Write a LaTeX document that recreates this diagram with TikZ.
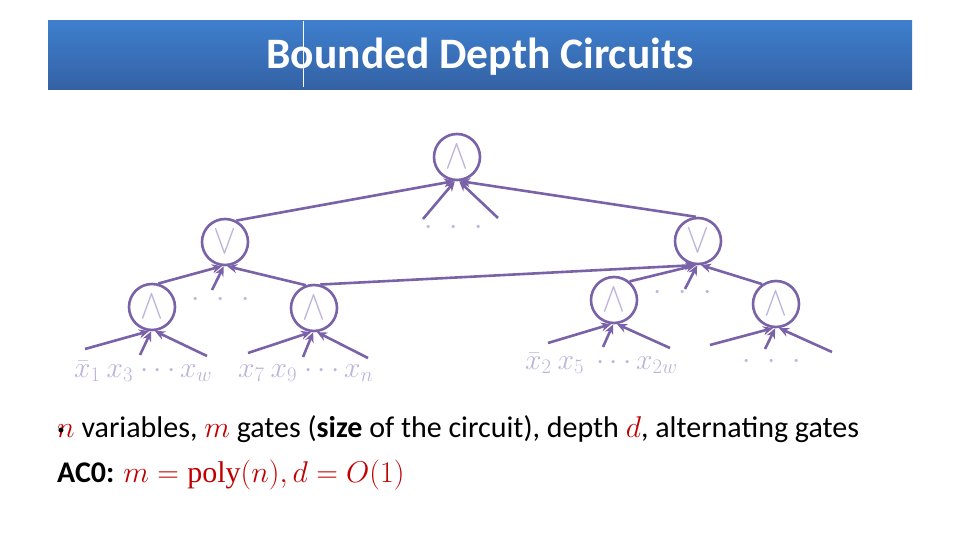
\RequirePackage{fix-cm}
\documentclass[tikz,border=0pt]{standalone}
\usepackage{fontspec}
\setmainfont{Carlito}
\newfontfamily\serifm{Liberation Serif}
\usetikzlibrary{arrows.meta}
\definecolor{gate}{HTML}{7A62A8}
\definecolor{lbl}{HTML}{BEB4DA}
\definecolor{mred}{HTML}{C00000}
\definecolor{bartop}{HTML}{3E7FCD}
\definecolor{barbot}{HTML}{3461A4}
\newcommand{\gsym}[1]{\scalebox{0.82}[1]{$#1$}}
\begin{document}
\begin{tikzpicture}[x=1pt,y=-1pt,
  gatec/.style={circle,draw=gate,line width=2.6pt,minimum size=46pt,inner sep=0pt,text=lbl,font=\fontsize{42}{42}\selectfont},
  wire/.style={draw=gate,line width=2.6pt,-{Stealth[length=10pt,width=9pt]}},
  lab/.style={text=lbl,font=\fontsize{29.5}{29.5}\selectfont,inner sep=0pt},
  dotsn/.style={text=lbl,font=\fontsize{30}{30}\selectfont,inner sep=0pt},
  body/.style={font=\fontsize{30}{30}\selectfont,inner sep=0pt}]
\useasboundingbox (0,0) rectangle (960,540);
\fill[white] (0,0) rectangle (960,540);
% title bar
\shade[top color=bartop,bottom color=barbot] (48,21) rectangle (912,90);
\draw[white,line width=0.8pt] (303,21) -- (303,87);
\node[text=white,font=\bfseries\fontsize{43.5}{43.5}\selectfont] (title) at (480,57) {Bounded Depth Circuits};
% gates
\node[gatec] (T) at (457,157) {\gsym{\wedge}};
\node[gatec] (LO) at (225,242) {\gsym{\vee}};
\node[gatec] (RO) at (698,241) {\gsym{\vee}};
\node[gatec] (LA) at (152,307) {\gsym{\wedge}};
\node[gatec] (RA) at (314,308) {\gsym{\wedge}};
\node[gatec] (RA1) at (614,300) {\gsym{\wedge}};
\node[gatec] (RA2) at (776,304) {\gsym{\wedge}};
% free ends
\coordinate (t1) at (423,219);
\coordinate (t2) at (498,218);
\coordinate (lo1) at (212,290);
\coordinate (ro1) at (685,289);
\coordinate (a1) at (85,349);  \coordinate (a2) at (140,355); \coordinate (a3) at (207,356);
\coordinate (b1) at (248,353); \coordinate (b2) at (303,357); \coordinate (b3) at (368,358);
\coordinate (c1) at (548,343); \coordinate (c2) at (603,347); \coordinate (c3) at (670,348);
\coordinate (e1) at (710,345); \coordinate (e2) at (765,349); \coordinate (e3) at (832,352);
% wires into top
\draw[wire] (LO.62) -- (T.-97);
\draw[wire] (t1) -- (T.-95);
\draw[wire] (t2) -- (T.-85);
\draw[wire] (RO.95) -- (T.-83);
% into left OR
\draw[wire] (LA.75) -- (LO.-97);
\draw[wire] (lo1) -- (LO.-93);
\draw[wire] (RA.110) -- (LO.-85);
% into right OR
\draw[wire] (RA.75) -- (RO.-97);
\draw[wire] (RA1.50) -- (RO.-95);
\draw[wire] (ro1) -- (RO.-92);
\draw[wire] (RA2.125) -- (RO.-83);
% leaves
\draw[wire] (a1) -- (LA.-97); \draw[wire] (a2) -- (LA.-92); \draw[wire] (a3) -- (LA.-83);
\draw[wire] (b1) -- (RA.-97); \draw[wire] (b2) -- (RA.-92); \draw[wire] (b3) -- (RA.-83);
\draw[wire] (c1) -- (RA1.-97); \draw[wire] (c2) -- (RA1.-92); \draw[wire] (c3) -- (RA1.-83);
\draw[wire] (e1) -- (RA2.-97); \draw[wire] (e2) -- (RA2.-92); \draw[wire] (e3) -- (RA2.-83);
% dots
\node[dotsn] (d1) at (454,228) {$\cdot\hspace{10pt}\cdot\hspace{10pt}\cdot$};
\node[dotsn] (d2) at (221,300) {$\cdot\hspace{10pt}\cdot\hspace{10pt}\cdot$};
\node[dotsn] (d3) at (683,293) {$\cdot\hspace{10pt}\cdot\hspace{10pt}\cdot$};
\node[dotsn] (d4) at (772,362) {$\cdot\hspace{10pt}\cdot\hspace{10pt}\cdot$};
% labels
\node[lab,anchor=base west] (l1) at (74,377) {$\bar{x}_1\hspace{6pt}x_3\hspace{3pt}\cdots x_w$};
\node[lab,anchor=base west] (l2) at (238,377) {$x_7\hspace{6pt}x_9\hspace{3pt}\cdots x_n$};
\node[lab,anchor=base west] (l3) at (525,369) {$\bar{x}_2\hspace{6pt}x_5\hspace{8pt}\cdots x_{2w}$};
% text
\node[body,anchor=base west] (line1) at (57,437) {\textcolor{mred}{$n$} variables, \textcolor{mred}{$m$} gates (\textbf{size} of the circuit), depth \textcolor{mred}{$d$}, alternating gates};
\node[font=\fontsize{14}{14}\selectfont,inner sep=0pt] (bul) at (61,431) {•};
\node[body,anchor=base west] (line2) at (57,482) {\textbf{AC0:} \textcolor{mred}{$m=\mbox{\serifm poly}(n), d=O(1)$}};
\end{tikzpicture}
\end{document}
